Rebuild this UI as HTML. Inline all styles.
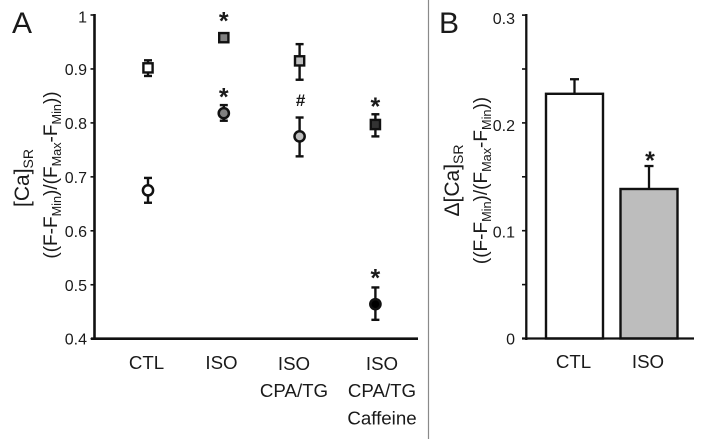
<!DOCTYPE html>
<html>
<head>
<meta charset="utf-8">
<title>SR calcium chart</title>
<style>
html,body{margin:0;padding:0;background:#fff;width:705px;height:439px;overflow:hidden}
svg{display:block;font-family:"Liberation Sans",sans-serif;filter:blur(0.35px)}
text{fill:#1a1a1a}
</style>
</head>
<body>
<svg id="chart" width="705" height="439" viewBox="0 0 705 439" xmlns="http://www.w3.org/2000/svg">
  <rect width="705" height="439" fill="#fff"/>
  <line x1="428.5" y1="0" x2="428.5" y2="439" stroke="#8a8a8a" stroke-width="1.2"/>
  <text x="12" y="33" font-size="30">A</text>
  <text x="439" y="33" font-size="30">B</text>
  <text transform="translate(29,178) rotate(-90)" text-anchor="middle" font-size="21">[Ca]<tspan font-size="14" dy="4">SR</tspan></text>
  <text transform="translate(57,175) rotate(-90)" text-anchor="middle" font-size="19">((F-F<tspan font-size="12.7" dy="4">Min</tspan><tspan dy="-4">)/(F</tspan><tspan font-size="12.7" dy="4">Max</tspan><tspan dy="-4">-F</tspan><tspan font-size="12.7" dy="4">Min</tspan><tspan dy="-4">))</tspan></text>
  <text transform="translate(459,180.5) rotate(-90)" text-anchor="middle" font-size="21">Δ[Ca]<tspan font-size="14" dy="4">SR</tspan></text>
  <text transform="translate(487,180.5) rotate(-90)" text-anchor="middle" font-size="19">((F-F<tspan font-size="12.7" dy="4">Min</tspan><tspan dy="-4">)/(F</tspan><tspan font-size="12.7" dy="4">Max</tspan><tspan dy="-4">-F</tspan><tspan font-size="12.7" dy="4">Min</tspan><tspan dy="-4">))</tspan></text>
  <g id="panelA"></g>
  <g id="panelB"></g>
</svg>
<script>
// Panel A data
var aTickValues = [0.4, 0.5, 0.6, 0.7, 0.8, 0.9, 1];
var aTickLabels = ['0.4', '0.5', '0.6', '0.7', '0.8', '0.9', '1'];
var aCategories = [['CTL'], ['ISO'], ['ISO', 'CPA/TG'], ['ISO', 'CPA/TG', 'Caffeine']];
var aSquareValues = [0.902, 0.958, 0.915, 0.797];
var aSquareUpper = [0.916, 0.958, 0.946, 0.816];
var aSquareLower = [0.887, 0.958, 0.880, 0.775];
var aSquareFills = ['#ffffff', '#808080', '#bdbdbd', '#333333'];
var aSquareMarks = ['', '*', '', '*'];
var aCircleValues = [0.675, 0.818, 0.775, 0.464];
var aCircleUpper = [0.698, 0.833, 0.810, 0.495];
var aCircleLower = [0.652, 0.804, 0.738, 0.435];
var aCircleFills = ['#ffffff', '#808080', '#bdbdbd', '#000000'];
var aCircleMarks = ['', '*', '#', '*'];
// Panel B data
var bTickValues = [0, 0.05, 0.1, 0.15, 0.2, 0.25, 0.3];
var bTickLabels = ['0', '', '0.1', '', '0.2', '', '0.3'];
var bCategories = ['CTL', 'ISO'];
var bValues = [0.227, 0.1387];
var bUpper = [0.2405, 0.160];
var bFills = ['#ffffff', '#bdbdbd'];
var bMarks = ['', '*'];

var NS = 'http://www.w3.org/2000/svg';
function make(parent, tag, attrs, content) {
  var el = document.createElementNS(NS, tag);
  for (var k in attrs) { el.setAttribute(k, attrs[k]); }
  if (content !== undefined) { el.textContent = content; }
  parent.appendChild(el);
  return el;
}
var INK = '#111111';

// Axis functions
function aY(v) { return 338.7 + (0.4 - v) * 539.5; }
function aX(i) { return 148 + i * 75.8; }
function bY(v) { return 338.5 - v * 1078; }
function bX(i) { return 574.5 + i * 74.5; }

var A = document.getElementById('panelA');
var B = document.getElementById('panelB');
var el;

// Panel A axes
el = make(A, 'line', {x1: 94.5, y1: 14, x2: 94.5, y2: 340, stroke: INK, 'stroke-width': 2.6});


el = make(A, 'line', {x1: 91, y1: aY(0.4), x2: 418, y2: aY(0.4), stroke: INK, 'stroke-width': 2.6});



aTickValues.forEach(function (v, i) {
  var t = make(A, 'line', {x1: 90.5, y1: aY(v), x2: 94, y2: aY(v), stroke: INK, 'stroke-width': 1.6});
  
  
  var l = make(A, 'text', {x: 87, y: aY(v) + 6 + (v === 1 ? 1.5 : 0), 'text-anchor': 'end', 'font-size': 16}, aTickLabels[i]);
  
  
});

aCategories.forEach(function (lines, i) {
  var cx = [146.5, 221.5, 294, 382][i];
  var y0 = i < 2 ? 369 : 370;
  lines.forEach(function (s, j) {
    var l = make(A, 'text', {x: cx, y: y0 + j * 27.2, 'text-anchor': 'middle', 'font-size': 18.7}, s);
    
    
  });
});

function whisker(parent, x, top, bottom, name) {
  var g = make(parent, 'g', {stroke: INK, 'stroke-width': 2.4, fill: 'none'});
  
  
  make(g, 'line', {x1: x, y1: top, x2: x, y2: bottom});
  make(g, 'line', {x1: x - 4, y1: top, x2: x + 4, y2: top});
  make(g, 'line', {x1: x - 4, y1: bottom, x2: x + 4, y2: bottom});
}

function sigMark(parent, x, y, s, name) {
  var size = s === '#' ? 17 : 25;
  var off = s === '#' ? 6 : 12.5;
  var bold = 'bold';
  var t = make(parent, 'text', {x: x, y: y + off, 'text-anchor': 'middle', 'font-size': size, 'font-weight': bold}, s);
  
  
}

var aSquareMarkY = [0, 17, 0, 102.5];
var aCircleMarkY = [0, 93, 100, 274];

aSquareValues.forEach(function (v, i) {
  var x = aX(i);
  if (aSquareUpper[i] !== aSquareLower[i]) {
    whisker(A, x, aY(aSquareUpper[i]), aY(aSquareLower[i]), 'square-error-bar');
  }
  var r = make(A, 'rect', {x: x - 4.6, y: aY(v) - 4.6, width: 9.2, height: 9.2, fill: aSquareFills[i], stroke: INK, 'stroke-width': 2.4});
  
  
  if (aSquareMarks[i]) { sigMark(A, x, aSquareMarkY[i], aSquareMarks[i], 'square-significance-mark'); }
});

aCircleValues.forEach(function (v, i) {
  var x = aX(i);
  whisker(A, x, aY(aCircleUpper[i]), aY(aCircleLower[i]), 'circle-error-bar');
  var c = make(A, 'circle', {cx: x, cy: aY(v), r: 5.1, fill: aCircleFills[i], stroke: INK, 'stroke-width': 2.5});
  
  
  if (aCircleMarks[i]) { sigMark(A, x + (i === 2 ? 1 : 0), aCircleMarkY[i], aCircleMarks[i], 'circle-significance-mark'); }
});

// Panel B axes
el = make(B, 'line', {x1: 526.3, y1: 14, x2: 526.3, y2: 340, stroke: INK, 'stroke-width': 2.3});



bTickValues.forEach(function (v, i) {
  var t = make(B, 'line', {x1: 522, y1: bY(v), x2: 526, y2: bY(v), stroke: INK, 'stroke-width': 1.6});
  
  
  if (bTickLabels[i]) {
    var l = make(B, 'text', {x: 515, y: bY(v) + 6 + v * 10, 'text-anchor': 'end', 'font-size': 16}, bTickLabels[i]);
    
    
  }
});

bValues.forEach(function (v, i) {
  var x = bX(i);
  var e = make(B, 'g', {stroke: INK, 'stroke-width': 2.3, fill: 'none'});
  
  
  make(e, 'line', {x1: x, y1: bY(v), x2: x, y2: bY(bUpper[i])});
  make(e, 'line', {x1: x - 4.5, y1: bY(bUpper[i]), x2: x + 4.5, y2: bY(bUpper[i])});
  var r = make(B, 'rect', {x: x - 28.5, y: bY(v), width: 57, height: bY(0) - bY(v), fill: bFills[i], stroke: INK, 'stroke-width': 2.4});
  
  
  var l = make(B, 'text', {x: x - 1, y: 368, 'text-anchor': 'middle', 'font-size': 18.7}, bCategories[i]);
  
  
  if (bMarks[i]) { sigMark(B, x + 1, 156.5, bMarks[i], 'bar-significance-mark'); }
});

el = make(B, 'line', {x1: 522, y1: bY(0), x2: 694, y2: bY(0), stroke: INK, 'stroke-width': 2.3});


</script>
</body>
</html>
